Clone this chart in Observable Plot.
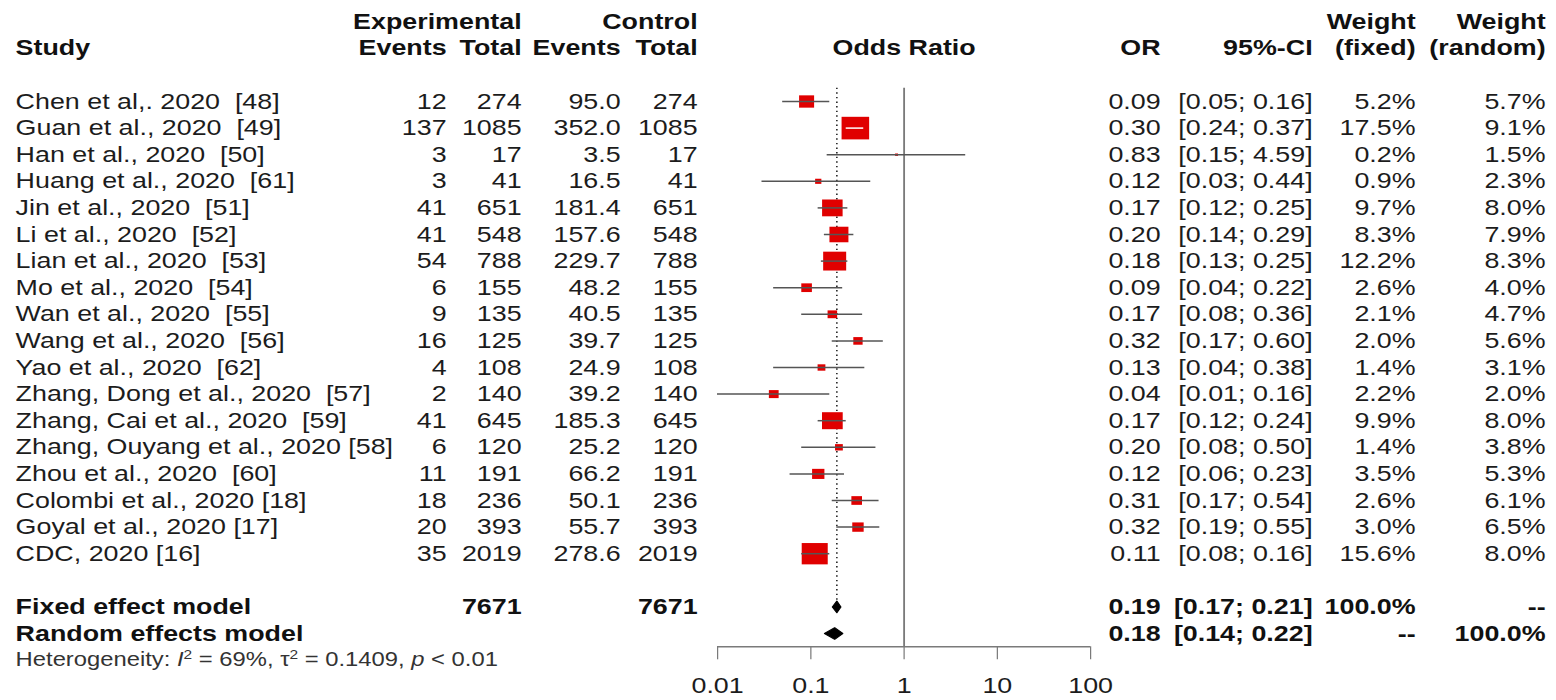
<!DOCTYPE html>
<html><head><meta charset="utf-8">
<script src="https://cdn.jsdelivr.net/npm/d3@7"></script>
<script src="https://cdn.jsdelivr.net/npm/@observablehq/plot@0.6"></script>
<style>
html,body{margin:0;padding:0;background:#fff;overflow:hidden}
#chart{width:1556px;height:700px}
</style></head><body><div id="chart"></div>
<script>
// ---------------- data ----------------
const studies = [
  "Chen et al,. 2020\u00a0 [48]", "Guan et al., 2020\u00a0 [49]", "Han et al., 2020\u00a0 [50]",
  "Huang et al., 2020\u00a0 [61]", "Jin et al., 2020\u00a0 [51]", "Li et al., 2020\u00a0 [52]",
  "Lian et al., 2020\u00a0 [53]", "Mo et al., 2020\u00a0 [54]", "Wan et al., 2020\u00a0 [55]",
  "Wang et al., 2020\u00a0 [56]", "Yao et al., 2020\u00a0 [62]", "Zhang, Dong et al., 2020\u00a0 [57]",
  "Zhang, Cai et al., 2020\u00a0 [59]", "Zhang, Ouyang et al., 2020 [58]", "Zhou et al., 2020\u00a0 [60]",
  "Colombi et al., 2020 [18]", "Goyal et al., 2020 [17]", "CDC, 2020 [16]"
];
const expEvents  = [12, 137, 3, 3, 41, 41, 54, 6, 9, 16, 4, 2, 41, 6, 11, 18, 20, 35];
const expTotal   = [274, 1085, 17, 41, 651, 548, 788, 155, 135, 125, 108, 140, 645, 120, 191, 236, 393, 2019];
const ctrlEvents = [95.0, 352.0, 3.5, 16.5, 181.4, 157.6, 229.7, 48.2, 40.5, 39.7, 24.9, 39.2, 185.3, 25.2, 66.2, 50.1, 55.7, 278.6];
const ctrlTotal  = [274, 1085, 17, 41, 651, 548, 788, 155, 135, 125, 108, 140, 645, 120, 191, 236, 393, 2019];
const orValue    = [0.09, 0.30, 0.83, 0.12, 0.17, 0.20, 0.18, 0.09, 0.17, 0.32, 0.13, 0.04, 0.17, 0.20, 0.12, 0.31, 0.32, 0.11];
const ciLower    = [0.05, 0.24, 0.15, 0.03, 0.12, 0.14, 0.13, 0.04, 0.08, 0.17, 0.04, 0.01, 0.12, 0.08, 0.06, 0.17, 0.19, 0.08];
const ciUpper    = [0.16, 0.37, 4.59, 0.44, 0.25, 0.29, 0.25, 0.22, 0.36, 0.60, 0.38, 0.16, 0.24, 0.50, 0.23, 0.54, 0.55, 0.16];
const weightFixed  = [5.2, 17.5, 0.2, 0.9, 9.7, 8.3, 12.2, 2.6, 2.1, 2.0, 1.4, 2.2, 9.9, 1.4, 3.5, 2.6, 3.0, 15.6];
const weightRandom = [5.7, 9.1, 1.5, 2.3, 8.0, 7.9, 8.3, 4.0, 4.7, 5.6, 3.1, 2.0, 8.0, 3.8, 5.3, 6.1, 6.5, 8.0];

const modelNames  = ["Fixed effect model", "Random effects model"];
const modelOR     = [0.19, 0.18];
const modelLower  = [0.17, 0.14];
const modelUpper  = [0.21, 0.22];
const modelWFixed  = ["100.0%", "--"];
const modelWRandom = ["--", "100.0%"];

const xTicks = [0.01, 0.1, 1, 10, 100];
const xTickLabels = ["0.01", "0.1", "1", "10", "100"];
const heterogeneity = {I2: "69%", tau2: "0.1409", p: "< 0.01"};

// ---------------- layout ----------------
const OUT_W = 1556, H = 700;
const W = 1275;                 // drawing width, stretched horizontally to OUT_W
const K = OUT_W / W;
const FS = 22;
const col = {study: 15 / K, expEv: 446 / K, expTot: 521 / K, ctlEv: 620 / K, ctlTot: 697 / K,
             or: 1160 / K, ci: 1312 / K, wf: 1415 / K, wr: 1545 / K};
const xRange = [717 / K, 1090 / K];
const headRow1 = -3, headRow2 = -2, fixedRow = 19, randomRow = 20, hetRow = 21, axisRow = 20.5;
const yDomain = [-3.797, axisRow], yRange = [0, 646.3];
const rMax = 5.4 * 10 / Math.sqrt(Math.PI);

const rows = studies.map((s, i) => ({
  i, study: s,
  ee: String(expEvents[i]), et: String(expTotal[i]),
  ce: ctrlEvents[i].toFixed(1), ct: String(ctrlTotal[i]),
  or: orValue[i], lo: ciLower[i], hi: ciUpper[i],
  orTxt: orValue[i].toFixed(2),
  ciTxt: `[${ciLower[i].toFixed(2)}; ${ciUpper[i].toFixed(2)}]`,
  wf: weightFixed[i], wfTxt: weightFixed[i].toFixed(1) + "%",
  wrTxt: weightRandom[i].toFixed(1) + "%"
}));
const models = modelNames.map((m, j) => ({
  name: m, row: j === 0 ? fixedRow : randomRow,
  or: modelOR[j], lo: modelLower[j], hi: modelUpper[j],
  orTxt: modelOR[j].toFixed(2),
  ciTxt: `[${modelLower[j].toFixed(2)}; ${modelUpper[j].toFixed(2)}]`,
  wfTxt: modelWFixed[j], wrTxt: modelWRandom[j],
  et: j === 0 ? String(d3.sum(expTotal)) : "", ct: j === 0 ? String(d3.sum(ctrlTotal)) : ""
}));

// which CIs lie completely inside their square -> white line
const xs = Plot.scale({x: {type: "log", domain: [xTicks[0], xTicks[xTicks.length - 1]], range: xRange}});
const rs = Plot.scale({r: {type: "sqrt", domain: [0, 100], range: [0, rMax]}});
rows.forEach(d => { d.inside = (xs.apply(d.hi) - xs.apply(d.lo)) < rs.apply(d.wf) * Math.sqrt(Math.PI); });

const DH = 0.22;
const diamondPts = models.flatMap(m => [
  {m: m.name, x: m.lo, y: m.row}, {m: m.name, x: m.or, y: m.row - DH},
  {m: m.name, x: m.hi, y: m.row}, {m: m.name, x: m.or, y: m.row + DH}, {m: m.name, x: m.lo, y: m.row}
]);

const TXT = "#1c1c1c";
const colText = (data, text, x, y, o = {}) => Plot.text(data, {
  text, y, frameAnchor: "left", dx: x, textAnchor: "end", fontSize: FS, fill: TXT, ...o});
const head = (label, x, y, anchor = "end") => Plot.text([label], {
  text: d => d, y, frameAnchor: "left", dx: x, textAnchor: anchor, fontSize: FS, fontWeight: "bold", fill: "#111"});

const svg = Plot.plot({
  width: W, height: H,
  marginLeft: 0, marginRight: 0, marginTop: 0, marginBottom: H - yRange[1],
  style: {fontFamily: "'Liberation Sans', Arial, Helvetica, sans-serif", background: "#fff", overflow: "visible"},
  x: {type: "log", domain: [xTicks[0], xTicks[xTicks.length - 1]], range: xRange, axis: null},
  y: {type: "linear", domain: yDomain, range: yRange, axis: null},
  r: {type: "sqrt", domain: [0, 100], range: [0, rMax]},
  marks: [
    // reference lines
    Plot.ruleX([1], {y1: -0.5, y2: axisRow, stroke: "#7a7a7a", strokeWidth: 1.5}),
    Plot.ruleX([modelOR[0]], {y1: -0.5, y2: fixedRow - 0.25, stroke: "#222", strokeWidth: 1.3, strokeDasharray: "1.4,3.2"}),
    // axis
    Plot.ruleY([axisRow], {x1: xTicks[0], x2: xTicks[xTicks.length - 1], stroke: "#7a7a7a", strokeWidth: 1.5}),
    Plot.axisX({anchor: "bottom", ticks: xTicks, tickFormat: d => xTickLabels[xTicks.indexOf(d)],
      tickSize: 13, tickPadding: 18, fontSize: FS, stroke: "#7a7a7a", color: "#1c1c1c", label: null}),
    // study squares and CIs
    Plot.dot(rows, {x: "or", y: "i", r: "wf", symbol: "square", fill: "#e00000"}),
    Plot.ruleY(rows.filter(d => !d.inside), {x1: "lo", x2: "hi", y: "i", stroke: "#555", strokeWidth: 1.5}),
    Plot.ruleY(rows.filter(d => d.inside), {x1: "lo", x2: "hi", y: "i", stroke: "#fff", strokeWidth: 1.5}),
    // pooled diamonds
    Plot.line(diamondPts, {x: "x", y: "y", z: "m", fill: "#000", stroke: "#000", strokeWidth: 1}),
    // headers
    head("Experimental", col.expTot, headRow1),
    head("Control", col.ctlTot, headRow1),
    head("Weight", col.wf, headRow1),
    head("Weight", col.wr, headRow1),
    head("Study", col.study, headRow2, "start"),
    head("Events", col.expEv, headRow2),
    head("Total", col.expTot, headRow2),
    head("Events", col.ctlEv, headRow2),
    head("Total", col.ctlTot, headRow2),
    Plot.text(["Odds Ratio"], {text: d => d, x: xTicks[2], y: headRow2, fontSize: FS, fontWeight: "bold", fill: "#111"}),
    head("OR", col.or, headRow2),
    head("95%-CI", col.ci, headRow2),
    head("(fixed)", col.wf, headRow2),
    head("(random)", col.wr, headRow2),
    // study rows
    colText(rows, "study", col.study, "i", {textAnchor: "start"}),
    colText(rows, "ee", col.expEv, "i"),
    colText(rows, "et", col.expTot, "i"),
    colText(rows, "ce", col.ctlEv, "i"),
    colText(rows, "ct", col.ctlTot, "i"),
    colText(rows, "orTxt", col.or, "i"),
    colText(rows, "ciTxt", col.ci, "i"),
    colText(rows, "wfTxt", col.wf, "i"),
    colText(rows, "wrTxt", col.wr, "i"),
    // model rows
    colText(models, "name", col.study, "row", {textAnchor: "start", fontWeight: "bold", fill: "#111"}),
    colText(models, "et", col.expTot, "row", {fontWeight: "bold", fill: "#111"}),
    colText(models, "ct", col.ctlTot, "row", {fontWeight: "bold", fill: "#111"}),
    colText(models, "orTxt", col.or, "row", {fontWeight: "bold", fill: "#111"}),
    colText(models, "ciTxt", col.ci, "row", {fontWeight: "bold", fill: "#111"}),
    colText(models, "wfTxt", col.wf, "row", {fontWeight: "bold", fill: "#111"}),
    colText(models, "wrTxt", col.wr, "row", {fontWeight: "bold", fill: "#111"}),
    // heterogeneity
    Plot.text([`Heterogeneity: I2 = ${heterogeneity.I2}, t2 = ${heterogeneity.tau2}, p ${heterogeneity.p}`],
      {text: d => d, y: hetRow, frameAnchor: "left", dx: col.study, textAnchor: "start", fontSize: 19.5, fill: "#333"})
  ]
});

// stretch horizontally like the reference
svg.setAttribute("viewBox", `0 0 ${W} ${H}`);
svg.setAttribute("width", OUT_W);
svg.setAttribute("height", H);
svg.setAttribute("preserveAspectRatio", "none");
svg.style.maxWidth = "none";
svg.style.width = OUT_W + "px";
svg.style.height = H + "px";

// rich heterogeneity label (italic I, p and superscripts)
const NS = "http://www.w3.org/2000/svg";
svg.querySelectorAll("text").forEach(t => {
  if (t.textContent.startsWith("Heterogeneity")) {
    while (t.firstChild) t.removeChild(t.firstChild);
    const parts = [
      ["Heterogeneity: "], ["I", "italic"], ["2", "sup"], [` = ${heterogeneity.I2}, \u03c4`], ["2", "sup"],
      [` = ${heterogeneity.tau2}, `], ["p", "italic"], [` ${heterogeneity.p}`]
    ];
    parts.forEach(([s, kind]) => {
      const ts = document.createElementNS(NS, "tspan");
      ts.textContent = s;
      if (kind === "italic") ts.setAttribute("font-style", "italic");
      if (kind === "sup") { ts.setAttribute("baseline-shift", "super"); ts.setAttribute("font-size", "65%"); }
      t.appendChild(ts);
    });
  }
});
document.getElementById("chart").appendChild(svg);
</script></body></html>
